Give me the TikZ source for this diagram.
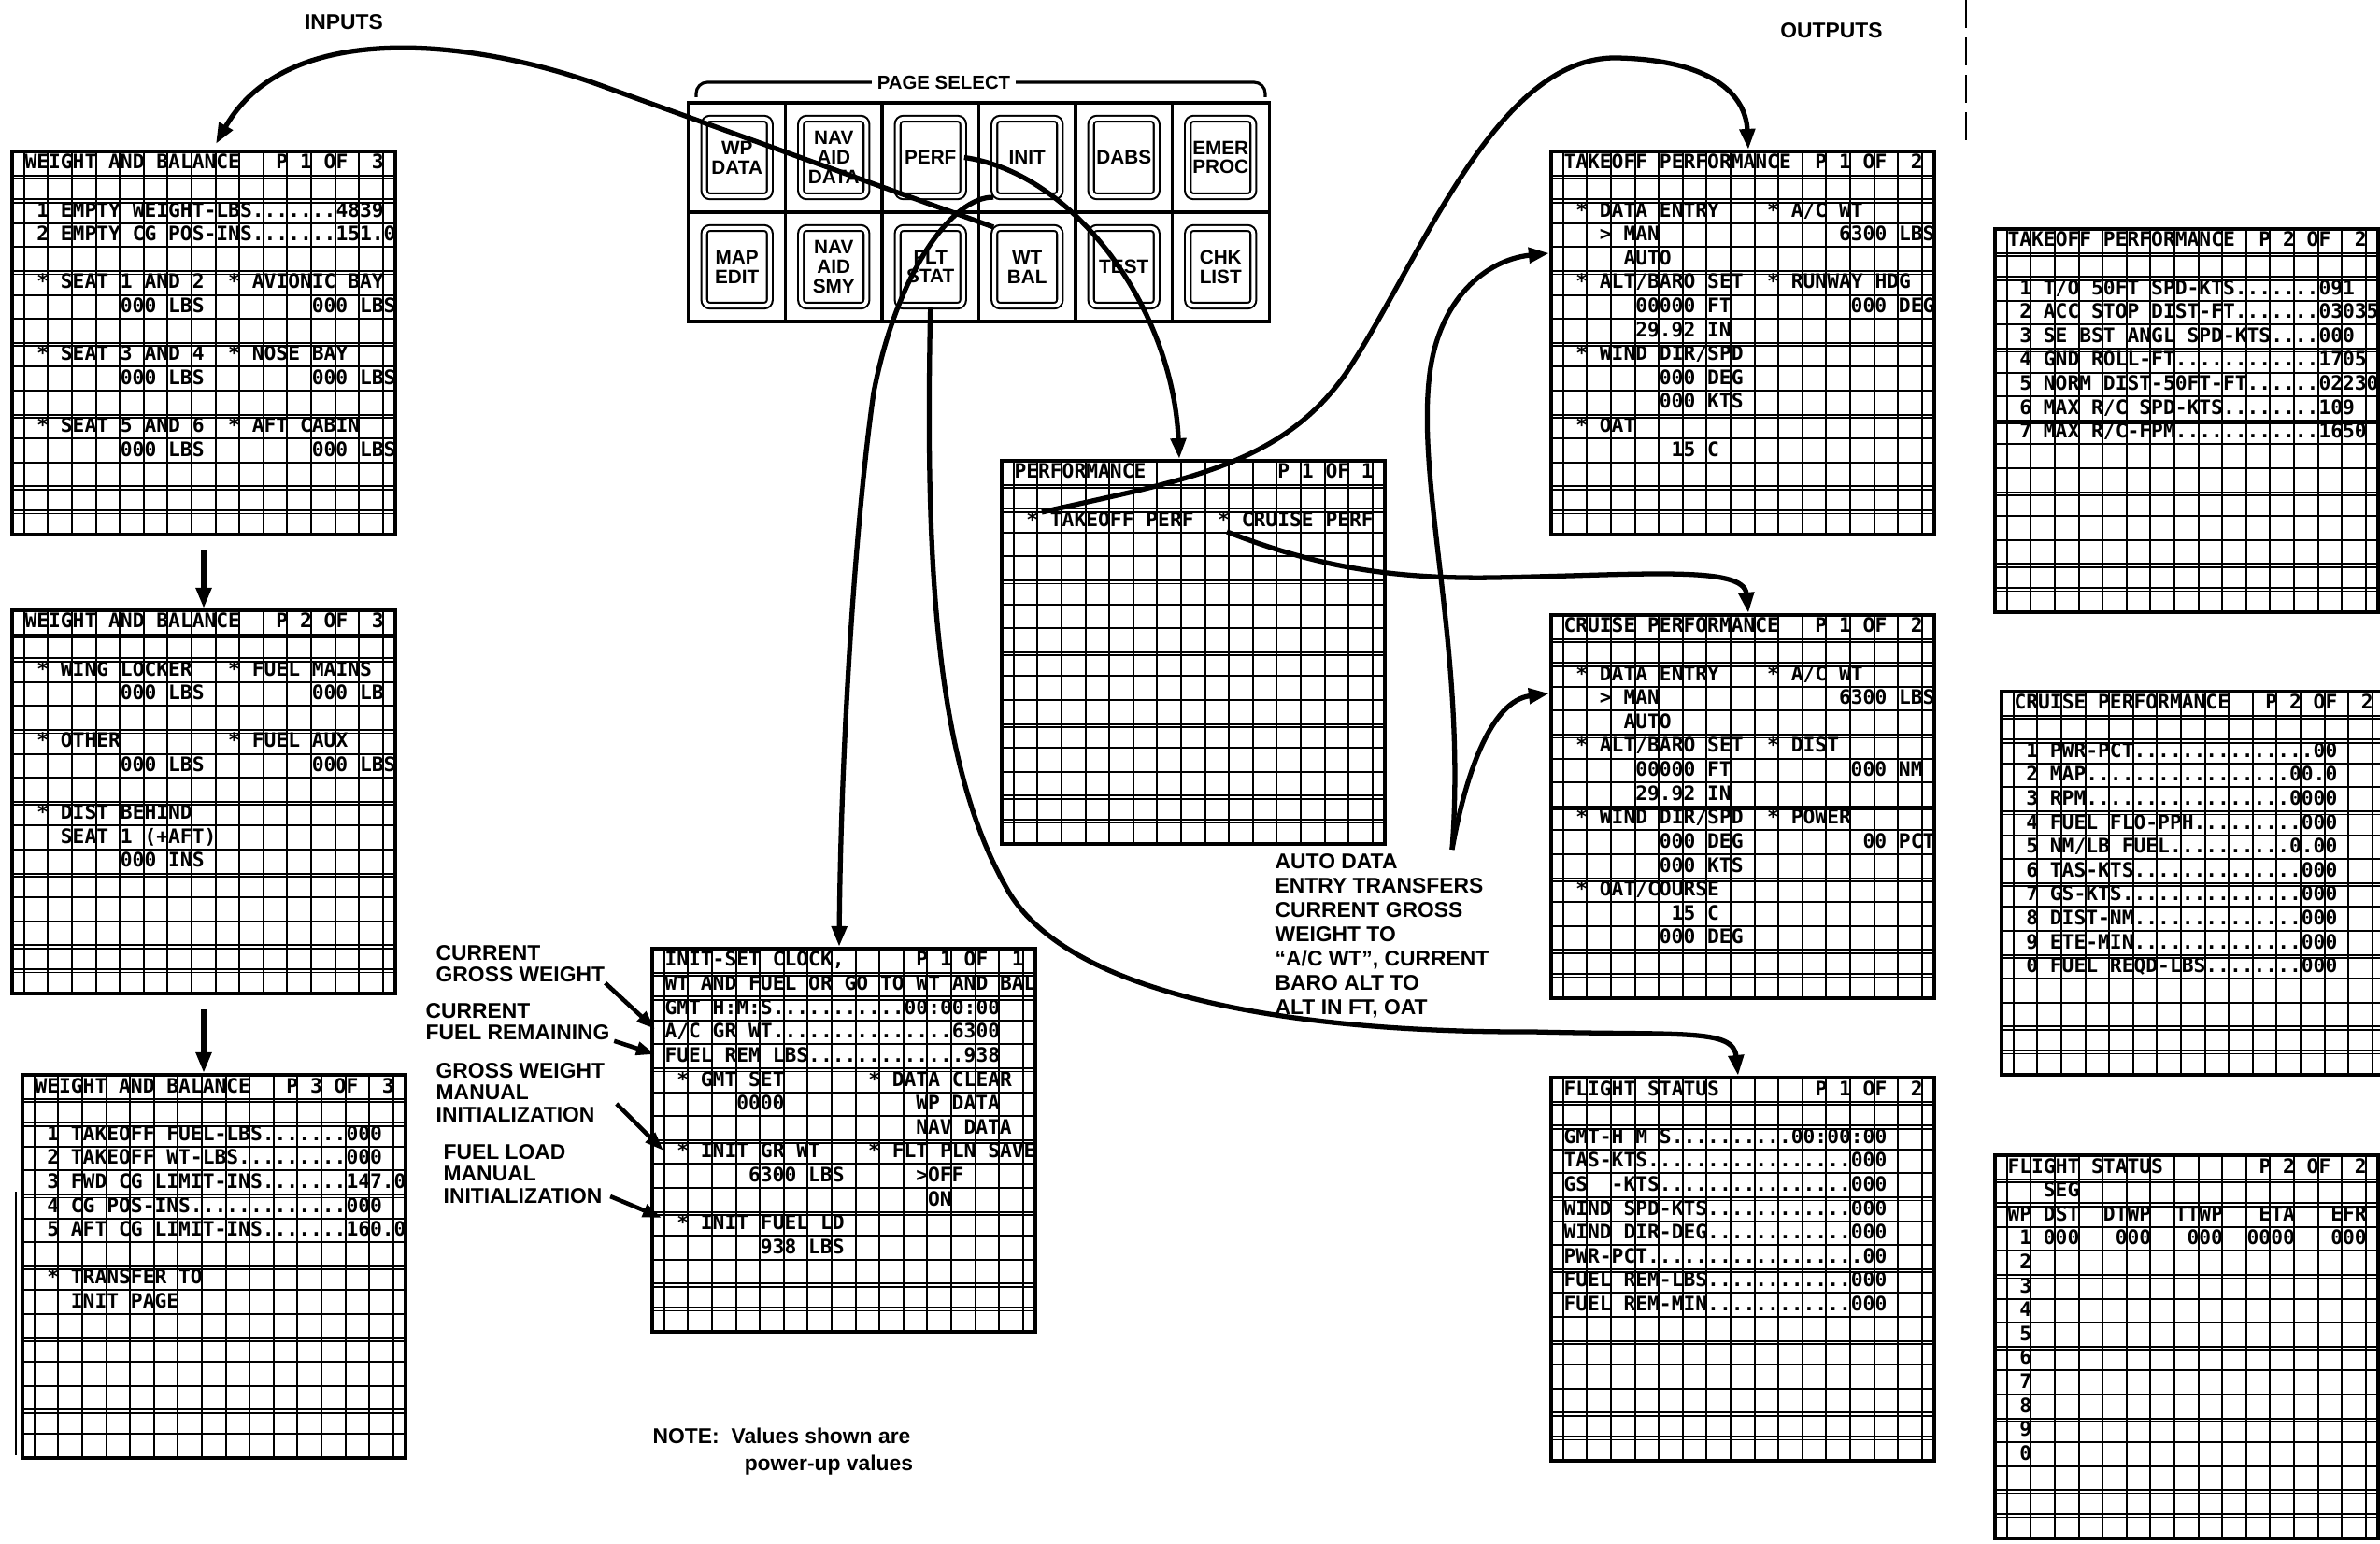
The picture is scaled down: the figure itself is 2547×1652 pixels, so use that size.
\documentclass[tikz,border=0pt]{standalone}
\usepackage{fontspec}
\setmainfont{Liberation Sans}
\newfontfamily\monofnt{DejaVu Sans Mono}
\usetikzlibrary{arrows.meta,calc}

\newcommand{\ldrs}[1]{\foreach \q in {1,...,#1}{.}}
\newcommand{\gaps}[1]{\foreach \q in {1,...,#1}{~}}

\tikzset{
  scrbox/.style={draw, line width=1.1pt, minimum width=4.1cm, minimum height=4.1cm, inner sep=0pt},
  gridln/.style={line width=0.55pt},
  scrtxt/.style={font={\monofnt\bfseries\fontsize{6.05}{7}\selectfont}, inner sep=0pt, anchor=base west},
  padln/.style={line width=0.9pt},
  keybtn/.style={draw, double, double distance=0.04cm, line width=0.6pt,
    rounded corners=0.06cm, minimum width=0.7cm, minimum height=0.83cm,
    inner sep=0pt, align=center, font={\bfseries\fontsize{5.9}{5.9}\selectfont}},
  lbl/.style={font={\bfseries\fontsize{6.5}{6.6}\selectfont}, align=left, inner sep=0pt},
  conn/.style={line width=1.5pt, -{Triangle[length=0.22cm,width=0.16cm]}},
  pointer/.style={line width=1.3pt, -{Triangle[length=0.2cm,width=0.14cm]}},
}

% screen: name, left, top, lines row/col/text
\newcommand{\dispscreen}[4]{%
  \node[scrbox] (#1) at (#2+205,#3+205) {};
  \foreach \k in {0,...,15}
    \draw[gridln] (#2+12.8+25.6*\k,#3) -- ++(0,410);
  \foreach \k in {1,...,15}
    \draw[gridln] (#2,#3+25.6*\k) -- ++(410,0);
  \foreach \k in {1,2,5,8,11,14,15}
    \draw[gridln] (#2,#3+25.6*\k+3.5) -- ++(410,0);
  \foreach \rw/\cl/\tx in {#4}
    \node[scrtxt] (#1-\rw-\cl) at (#2+12.8*\cl,#3+25.6*\rw+19) {\tx};
}

\begin{document}
\begin{tikzpicture}[x=0.01cm,y=-0.01cm]
\useasboundingbox (0,0) rectangle (2547,1652);
\fill[white] (0,0) rectangle (2547,1652);
\clip (0,0) rectangle (2547,1652);

\dispscreen{wb1}{13}{162}{0/1/{WEIGHT AND BALANCE~~~P 1 OF~~3},
  2/2/{1 EMPTY WEIGHT-LBS\ldrs{7}4839},
  3/2/{2 EMPTY CG POS-INS\ldrs{7}151.0},
  5/2/{* SEAT 1 AND 2~~* AVIONIC BAY},
  6/9/{000 LBS\gaps{9}000 LBS},
  8/2/{* SEAT 3 AND 4~~* NOSE BAY},
  9/9/{000 LBS\gaps{9}000 LBS},
  11/2/{* SEAT 5 AND 6~~* AFT CABIN},
  12/9/{000 LBS\gaps{9}000 LBS}}

\dispscreen{wb2}{13}{653}{0/1/{WEIGHT AND BALANCE~~~P 2 OF~~3},
  2/2/{* WING LOCKER~~~* FUEL MAINS},
  3/9/{000 LBS\gaps{9}000 LB},
  5/2/{* OTHER\gaps{9}* FUEL AUX},
  6/9/{000 LBS\gaps{9}000 LBS},
  8/2/{* DIST BEHIND},
  9/4/{SEAT 1 (+AFT)},
  10/9/{000 INS}}

\dispscreen{wb3}{24}{1150}{0/1/{WEIGHT AND BALANCE~~~P 3 OF~~3},
  2/2/{1 TAKEOFF FUEL-LBS\ldrs{7}000},
  3/2/{2 TAKEOFF WT-LBS\ldrs{9}000},
  4/2/{3 FWD CG LIMIT-INS\ldrs{7}147.0},
  5/2/{4 CG POS-INS\ldrs{13}000},
  6/2/{5 AFT CG LIMIT-INS\ldrs{7}160.0},
  8/2/{* TRANSFER TO},
  9/4/{INIT PAGE}}

\dispscreen{perf}{1072}{493}{0/1/{PERFORMANCE\gaps{11}P 1 OF 1},
  2/2/{* TAKEOFF PERF~~* CRUISE PERF}}

\dispscreen{init}{698}{1015}{0/1/{INIT-SET CLOCK,\gaps{6}P 1 OF~~1},
  1/1/{WT AND FUEL OR GO TO WT AND BAL},
  2/1/{GMT H:M:S\ldrs{11}00:00:00},
  3/1/{A/C GR WT\ldrs{15}6300},
  4/1/{FUEL REM LBS\ldrs{13}938},
  5/2/{* GMT SET\gaps{7}* DATA CLEAR},
  6/7/{0000}, 6/22/{WP DATA},
  7/22/{NAV DATA},
  8/2/{* INIT GR WT\gaps{4}* FLT PLN SAVE},
  9/8/{6300 LBS}, 9/22/{>OFF},
  10/23/{ON},
  11/2/{* INIT FUEL LD},
  12/9/{938 LBS}}

\dispscreen{to1}{1660}{162}{0/1/{TAKEOFF PERFORMANCE~~P 1 OF~~2},
  2/2/{* DATA ENTRY\gaps{4}* A/C WT},
  3/4/{> MAN\gaps{15}6300 LBS},
  4/6/{AUTO},
  5/2/{* ALT/BARO SET~~* RUNWAY HDG},
  6/7/{00000 FT}, 6/25/{000 DEG},
  7/7/{29.92 IN},
  8/2/{* WIND DIR/SPD},
  9/9/{000 DEG},
  10/9/{000 KTS},
  11/2/{* OAT},
  12/10/{15 C}}

\dispscreen{cr1}{1660}{658}{0/1/{CRUISE PERFORMANCE~~~P 1 OF~~2},
  2/2/{* DATA ENTRY\gaps{4}* A/C WT},
  3/4/{> MAN\gaps{15}6300 LBS},
  4/6/{AUTO},
  5/2/{* ALT/BARO SET~~* DIST},
  6/7/{00000 FT}, 6/25/{000 NM},
  7/7/{29.92 IN},
  8/2/{* WIND DIR/SPD~~* POWER},
  9/9/{000 DEG}, 9/26/{00 PCT},
  10/9/{000 KTS},
  11/2/{* OAT/COURSE},
  12/10/{15 C},
  13/9/{000 DEG}}

\dispscreen{fs1}{1660}{1153}{0/1/{FLIGHT STATUS\gaps{8}P 1 OF~~2},
  2/1/{GMT-H M S\ldrs{10}00:00:00},
  3/1/{TAS-KTS\ldrs{17}000},
  4/1/{GS~~-KTS\ldrs{16}000},
  5/1/{WIND SPD-KTS\ldrs{12}000},
  6/1/{WIND DIR-DEG\ldrs{12}000},
  7/1/{PWR-PCT\ldrs{18}00},
  8/1/{FUEL REM-LBS\ldrs{12}000},
  9/1/{FUEL REM-MIN\ldrs{12}000}}

\dispscreen{to2}{2135}{245}{0/1/{TAKEOFF PERFORMANCE~~P 2 OF~~2},
  2/2/{1 T/O 50FT SPD-KTS\ldrs{7}091},
  3/2/{2 ACC STOP DIST-FT\ldrs{7}03035},
  4/2/{3 SE BST ANGL SPD-KTS\ldrs{4}000},
  5/2/{4 GND ROLL-FT\ldrs{12}1705},
  6/2/{5 NORM DIST-50FT-FT\ldrs{6}02230},
  7/2/{6 MAX R/C SPD-KTS\ldrs{8}109},
  8/2/{7 MAX R/C-FPM\ldrs{12}1650}}

\dispscreen{cr2}{2142}{740}{0/1/{CRUISE PERFORMANCE~~~P 2 OF~~2},
  2/2/{1 PWR-PCT\ldrs{15}00},
  3/2/{2 MAP\ldrs{17}00.0},
  4/2/{3 RPM\ldrs{17}0000},
  5/2/{4 FUEL FLO-PPH\ldrs{9}000},
  6/2/{5 NM/LB FUEL\ldrs{10}0.00},
  7/2/{6 TAS-KTS\ldrs{14}000},
  8/2/{7 GS-KTS\ldrs{15}000},
  9/2/{8 DIST-NM\ldrs{14}000},
  10/2/{9 ETE-MIN\ldrs{14}000},
  11/2/{0 FUEL REQD-LBS\ldrs{8}000}}

\dispscreen{fs2}{2135}{1236}{0/1/{FLIGHT STATUS\gaps{8}P 2 OF~~2},
  1/4/{SEG},
  2/1/{WP DST~~DTWP~~TTWP~~~ETA~~~EFR},
  3/2/{1 000~~~000~~~000~~0000~~~000},
  4/2/2, 5/2/3, 6/2/4, 7/2/5, 8/2/6, 9/2/7, 10/2/8, 11/2/9, 12/2/0}

% page select keys
\node[draw, padln, minimum width=6.21cm, minimum height=2.34cm, inner sep=0pt] (pad) at (1047.5,227) {};
\foreach \k in {1,...,5}
  \draw[padln] (737+103.5*\k,110) -- (737+103.5*\k,344);
\draw[padln] (pad.west) -- (pad.east);
\foreach \nm/\keytxt [count=\i from 0] in {kWP/{WP\\DATA}, kNAVD/{NAV\\AID\\DATA}, kPERF/PERF,
    kINIT/INIT, kDABS/DABS, kEMER/{EMER\\PROC}}
  \node[keybtn] (\nm) at (788.75+103.5*\i,168.5) {\keytxt};
\foreach \nm/\keytxt [count=\i from 0] in {kMAP/{MAP\\EDIT}, kNAVS/{NAV\\AID\\SMY}, kFLT/{FLT\\STAT},
    kWTBAL/{WT\\BAL}, kTEST/TEST, kCHK/{CHK\\LIST}}
  \node[keybtn] (\nm) at (788.75+103.5*\i,285.5) {\keytxt};
\draw[padln, rounded corners=0.12cm] (745,104) |- (1354,88) -- (1354,104);
\node[lbl, fill=white, inner xsep=0.06cm, inner ysep=0.02cm, font={\bfseries\fontsize{5.8}{6}\selectfont}] (pagesel) at (1010,88) {PAGE SELECT};

\node[lbl] (inputs) at (368,24) {INPUTS};
\node[lbl] (outputs) at (1960,33) {OUTPUTS};

\node[lbl, anchor=north west] (cgw) at (466,1011) {CURRENT\\GROSS WEIGHT};
\node[lbl, anchor=north west] (cfr) at (455,1073) {CURRENT\\FUEL REMAINING};
\node[lbl, anchor=north west] (gwmi) at (466,1137) {GROSS WEIGHT\\MANUAL\\INITIALIZATION};
\node[lbl, anchor=north west] (flmi) at (474,1224) {FUEL LOAD\\MANUAL\\INITIALIZATION};
\node[lbl, anchor=north west, font={\bfseries\fontsize{6.5}{8.2}\selectfont}] (note) at (698,1527)
  {NOTE:\ \ Values shown are\\\hspace*{0.98cm}power-up values};
\node[lbl, anchor=north west, font={\bfseries\fontsize{6.5}{7.4}\selectfont}] (autotxt) at (1364,913)
  {AUTO DATA\\ENTRY TRANSFERS\\CURRENT GROSS\\WEIGHT TO\\“A/C WT”, CURRENT\\BARO ALT TO\\ALT IN FT, OAT};

\coordinate (tkosel) at ($(perf.north west)+(45,57)$);
\coordinate (crsel) at ($(perf.north west)+(243,78)$);
\coordinate (autotop) at ($(autotxt.north east)+(-40,-4)$);

\draw[conn, shorten <=0.15cm] (wb1) -- (wb2);
\draw[conn, shorten <=0.15cm] (wb2.south) -- (wb2.south |- wb3.north);
\draw[conn] (kWTBAL.north west) -- (650,94) .. controls (520,45) and (310,15) .. ($(wb1.north)+(13,-6)$);
\draw[conn] (kPERF.east) .. controls (1150,185) and (1255,330) .. ($(perf.north)+(-15,0)$);
\draw[conn] (kINIT.south west) .. controls (1020,210) and (960,290) .. (935,420)
  .. controls (915,560) and (900,800) .. ($(init.north)+(-5,0)$);
\draw[conn] (kFLT.south) .. controls (990,600) and (1000,820) .. (1080,955)
  .. controls (1150,1070) and (1400,1105) .. (1640,1104)
  .. controls (1800,1108) and (1855,1100) .. ($(fs1.north)+(-5,0)$);
\draw[conn] (tkosel) .. controls (1260,515) and (1370,500) .. (1440,400)
  .. controls (1520,280) and (1600,60) .. (1730,62)
  .. controls (1830,64) and (1868,100) .. ($(to1.north)+(6,0)$);
\draw[conn] (crsel) .. controls (1400,603) and (1480,620) .. (1600,618)
  .. controls (1760,615) and (1866,605) .. ($(cr1.north)+(6,0)$);
\draw[conn] (autotop) .. controls (1570,700) and (1515,520) .. (1530,400)
  .. controls (1540,320) and (1590,278) .. ($(to1.north west)+(0,111)$);
\draw[conn] (autotop) .. controls (1568,830) and (1595,750) .. ($(cr1.north west)+(0,86)$);

\draw[pointer] (cgw.south east) -- ($(init.north west)+(5,88)$);
\draw[pointer] ($(cfr.south east)+(4,0)$) -- ($(init.north west)+(5,115)$);
\draw[pointer] ($(gwmi.east)+(12,12)$) -- ($(init.north west)+(14,218)$);
\draw[pointer] ($(flmi.south east)+(8,-8)$) -- ($(init.north west)+(12,290)$);

\draw[line width=0.5pt, dash pattern=on 0.3cm off 0.1cm] (2104,0) -- (2104,160);
\draw[line width=0.5pt] (17,1275) -- (17,1557);
\end{tikzpicture}
\end{document}
